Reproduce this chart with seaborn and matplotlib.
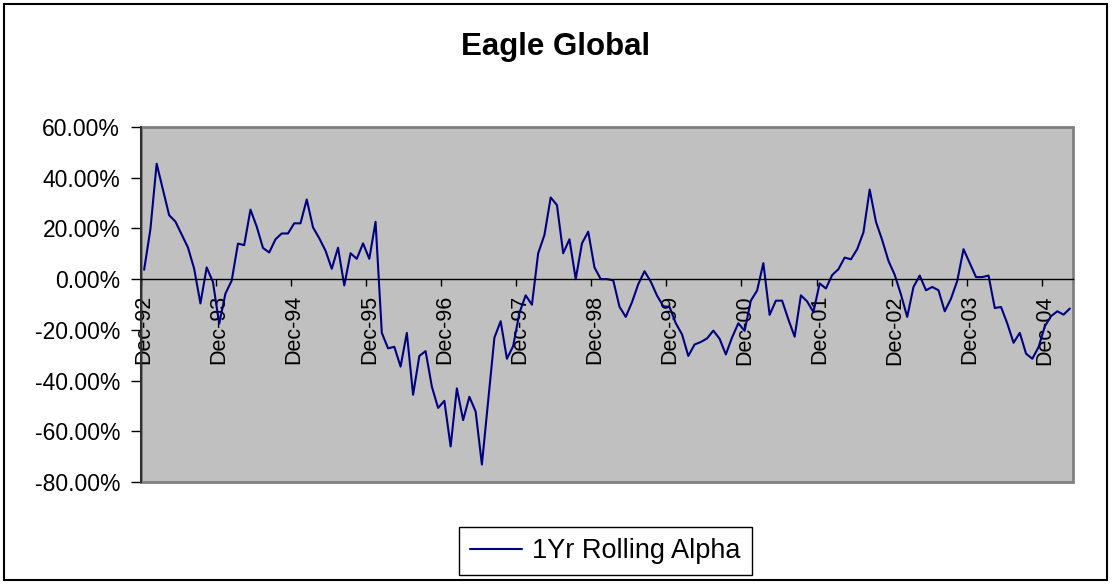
import numpy as np
import pandas as pd
import seaborn as sns
import matplotlib.pyplot as plt
from matplotlib.patches import Rectangle
from matplotlib.ticker import PercentFormatter, FixedLocator

# monthly 1yr rolling alpha (%), Dec-92 .. Apr-05
alpha = [3.7, 19.6, 45.5, 35.3, 25.2, 22.7, 17.6, 12.5, 4.1, -9.6, 4.6, -1.1,
         -17.6, -5.7, -0.6, 14.0, 13.4, 27.4, 20.7, 12.3, 10.5, 15.7, 18.0, 18.0,
         22.0, 22.0, 31.4, 20.4, 16.1, 11.2, 4.1, 12.4, -2.5, 10.2, 8.0, 14.1,
         8.0, 22.6, -21.2, -27.3, -26.7, -34.5, -21.2, -45.6, -30.3, -28.4, -42.4, -50.8,
         -48.0, -66.0, -43.1, -55.6, -46.4, -52.2, -73.1, -48.0, -23.1, -16.6, -31.4, -26.4,
         -13.3, -6.4, -10.1, 10.2, 17.4, 32.2, 29.2, 10.2, 15.7, 0.0, 14.1, 18.7,
         4.6, 0.0, 0.0, -0.5, -10.9, -14.9, -9.1, -2.0, 3.1, -1.0, -6.5, -10.7,
         -11.0, -17.4, -21.8, -30.3, -25.8, -24.8, -23.4, -20.3, -23.5, -29.7, -23.0, -17.4,
         -20.4, -8.5, -4.5, 6.3, -14.1, -8.5, -8.5, -15.9, -22.7, -6.4, -8.8, -13.0,
         -1.7, -3.7, 1.6, 3.9, 8.5, 7.8, 11.8, 18.4, 35.3, 22.6, 15.4, 7.2,
         1.7, -6.1, -14.9, -3.1, 1.4, -4.4, -3.1, -4.4, -12.7, -7.7, -0.7, 11.8,
         6.3, 0.8, 0.8, 1.4, -11.4, -11.0, -17.5, -25.1, -21.2, -29.4, -31.4, -26.8,
         -18.6, -14.6, -12.7, -14.0, -11.6]
year_labels = ["Dec-92", "Dec-93", "Dec-94", "Dec-95", "Dec-96", "Dec-97", "Dec-98",
               "Dec-99", "Dec-00", "Dec-01", "Dec-02", "Dec-03", "Dec-04"]
series_name = "1Yr Rolling Alpha"

df = pd.DataFrame({"month": np.arange(len(alpha)), "alpha": alpha})

sns.set_style("white")
plt.rcParams["font.family"] = ["Liberation Sans", "DejaVu Sans"]
plt.rcParams["axes.unicode_minus"] = False
plt.rcParams["text.color"] = "black"
plt.rcParams["xtick.color"] = "black"
plt.rcParams["ytick.color"] = "black"

fig = plt.figure(figsize=(11.12, 5.84), dpi=100)
ax = fig.add_axes([0.1268, 0.1747, 0.8381, 0.6079])
ax.set_facecolor("#C0C0C0")

sns.lineplot(data=df, x="month", y="alpha", ax=ax, color="#000080",
             linewidth=1.5, label=series_name)

n = len(alpha)
ax.set_xlim(-0.5, n - 0.5)
ax.set_ylim(-80, 60)
ax.set_yticks(np.arange(-80, 61, 20))
ax.yaxis.set_major_formatter(PercentFormatter(xmax=100, decimals=2))
ax.tick_params(axis="y", direction="out", length=7, width=1, pad=8,
               labelsize=16.5, left=True, color="black", labelcolor="black")

# x axis sits on the zero line, tick marks between categories
ax.spines["bottom"].set_position(("data", 0))
ax.spines["bottom"].set_color("black")
ax.spines["bottom"].set_linewidth(1)
ax.xaxis.set_major_locator(FixedLocator(np.arange(-0.5, n, 12)))
ax.xaxis.set_major_formatter(plt.NullFormatter())
ax.xaxis.set_minor_locator(FixedLocator(np.arange(0, n, 12)))
ax.set_xticklabels(year_labels, minor=True, rotation=90, fontsize=15.5, color="black")
ax.tick_params(axis="x", which="major", direction="out", length=5, width=1,
               bottom=True, color="black")
ax.tick_params(axis="x", which="minor", length=0, pad=11.5)

for s in ["top", "right"]:
    ax.spines[s].set_visible(False)
ax.spines["left"].set_color("#303030")
ax.spines["left"].set_linewidth(1.5)
ax.add_patch(Rectangle((0, 0), 1, 1, transform=ax.transAxes, fill=False,
                       edgecolor="#808080", linewidth=2, clip_on=False, zorder=0.5))

ax.set_xlabel("")
ax.set_ylabel("")
ax.get_legend().remove()

fig.suptitle("Eagle Global", fontsize=22.5, fontweight="bold", y=0.945, color="black")

handles, labels = ax.get_legend_handles_labels()
leg = fig.legend(handles, labels, loc="center", bbox_to_anchor=(0.5445, 0.0565),
                 fontsize=19.5, fancybox=False, edgecolor="black", framealpha=1,
                 handlelength=1.9, borderpad=0.4, handletextpad=0.4)
for t in leg.get_texts():
    t.set_color("black")

fig.patches.append(Rectangle((4, 4), 1103, 576, transform=None, fill=False,
                             edgecolor="black", linewidth=1.5))

fig.savefig("out.png", dpi=100)
